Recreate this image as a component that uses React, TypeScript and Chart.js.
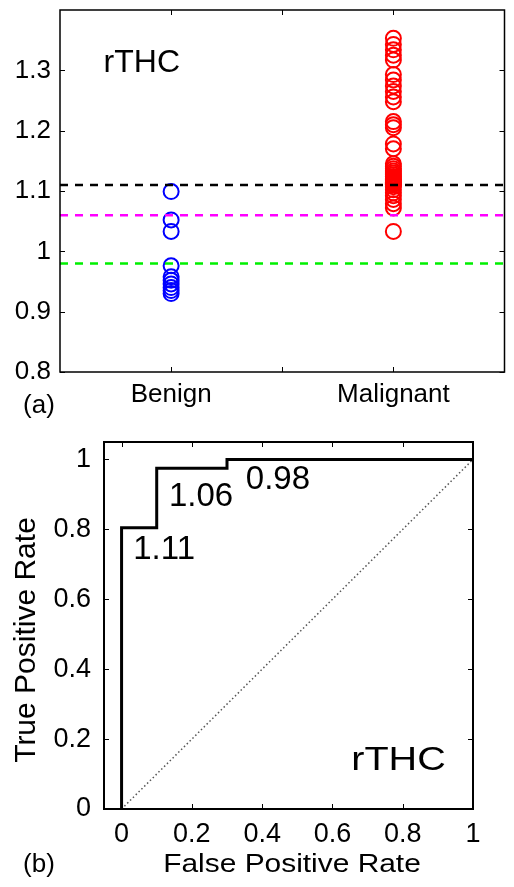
import React, { useEffect, useRef } from 'react';
import { Chart, registerables } from 'chart.js';

Chart.register(...registerables);

const FONT = '"Liberation Sans", Arial, Helvetica, sans-serif';

// ---------- Panel (a) data ----------
const categories = ['Benign', 'Malignant'];
const categoryPositions = [1, 2];
const benignValues = [1.099, 1.052, 1.033, 0.976, 0.958, 0.952, 0.946, 0.94, 0.935, 0.93];
const malignantValues = [
  1.353, 1.343, 1.334, 1.325, 1.317,
  1.293, 1.284, 1.274, 1.265, 1.256, 1.248,
  1.215, 1.21, 1.205,
  1.178, 1.17,
  1.145, 1.141, 1.137, 1.133, 1.13, 1.127, 1.124, 1.121, 1.119, 1.117, 1.115, 1.114, 1.113, 1.112, 1.111, 1.1105,
  1.107, 1.102, 1.097, 1.092, 1.086, 1.079, 1.072,
  1.033,
];
const thresholds = [1.11, 1.06, 0.98];
const thresholdColors = ['#000000', '#ff00ff', '#00f000'];
const topYTicks = [0.8, 0.9, 1.0, 1.1, 1.2, 1.3];
const topXTicks = [1, 1.5, 2];

// ---------- Panel (b) data ----------
const rocFpr = [0, 0, 0.1, 0.1, 0.3, 0.3, 1];
const rocTpr = [0, 0.805, 0.805, 0.975, 0.975, 1, 1];
const thresholdLabels = ['1.11', '1.06', '0.98'];
const bottomTicks = [0, 0.2, 0.4, 0.6, 0.8, 1];

const fmt = (v: number) => String(Number(v.toFixed(2)));

const framePlugin = {
  id: 'frame',
  afterDraw(chart: any, _args: any, opts: any) {
    const { ctx, chartArea: a, scales } = chart;
    const xs = scales.x;
    const ys = scales.y;
    const L = opts.tickLength;
    ctx.save();
    ctx.strokeStyle = '#000';
    ctx.lineWidth = opts.tickWidth;
    ctx.beginPath();
    xs.ticks.forEach((t: any) => {
      const p = Math.round(xs.getPixelForValue(t.value)) + 0.5;
      ctx.moveTo(p, a.bottom);
      ctx.lineTo(p, a.bottom - L);
      ctx.moveTo(p, a.top);
      ctx.lineTo(p, a.top + L);
    });
    ys.ticks.forEach((t: any) => {
      const p = Math.round(ys.getPixelForValue(t.value)) + 0.5;
      ctx.moveTo(a.left, p);
      ctx.lineTo(a.left + L, p);
      ctx.moveTo(a.right, p);
      ctx.lineTo(a.right - L, p);
    });
    ctx.stroke();
    ctx.lineWidth = opts.borderWidth;
    ctx.strokeRect(a.left, a.top, a.right - a.left, a.bottom - a.top);
    ctx.restore();
  },
};

const textPlugin = {
  id: 'texts',
  afterDraw(chart: any, _args: any, opts: any) {
    const { ctx, scales } = chart;
    (opts.items || []).forEach((it: any) => {
      let x = it.x;
      let y = it.y;
      if (it.data) {
        x = scales.x.getPixelForValue(it.x);
        y = scales.y.getPixelForValue(it.y);
      }
      ctx.save();
      ctx.font = it.font;
      ctx.fillStyle = '#000';
      ctx.textAlign = 'center';
      ctx.textBaseline = 'alphabetic';
      ctx.translate(x, y);
      if (it.rotate) ctx.rotate(it.rotate);
      if (it.scaleX) ctx.scale(it.scaleX, 1);
      ctx.fillText(it.text, 0, 0);
      ctx.restore();
    });
  },
};

const fixX = (h: number) => (s: any) => {
  s.height = h;
  s.paddingLeft = 0;
  s.paddingRight = 0;
  s.paddingTop = 0;
  s.paddingBottom = 0;
};
const fixY = (w: number) => (s: any) => {
  s.width = w;
  s.paddingLeft = 0;
  s.paddingRight = 0;
  s.paddingTop = 0;
  s.paddingBottom = 0;
};

function TopChart() {
  const ref = useRef<HTMLCanvasElement | null>(null);
  useEffect(() => {
    if (!ref.current) return;
    const lineSets = thresholds.map((t, i) => ({
      type: 'line' as const,
      data: [
        { x: 0.5, y: t },
        { x: 2.5, y: t },
      ],
      borderColor: thresholdColors[i],
      borderWidth: 2.5,
      borderDash: [8, 7],
      pointRadius: 0,
      fill: false,
    }));
    const chart = new Chart(ref.current, {
      type: 'scatter',
      data: {
        datasets: [
          ...lineSets,
          {
            type: 'scatter' as const,
            data: benignValues.map((v) => ({ x: categoryPositions[0], y: v })),
            borderColor: '#0000ff',
            backgroundColor: 'rgba(0,0,0,0)',
            borderWidth: 2,
            pointRadius: 7.5,
          },
          {
            type: 'scatter' as const,
            data: malignantValues.map((v) => ({ x: categoryPositions[1], y: v })),
            borderColor: '#ff0000',
            backgroundColor: 'rgba(0,0,0,0)',
            borderWidth: 2,
            pointRadius: 7.5,
          },
        ] as any,
      },
      options: {
        animation: false,
        responsive: true,
        maintainAspectRatio: false,
        layout: { padding: { top: 10, right: 1, left: 0, bottom: 0 } },
        plugins: {
          legend: { display: false },
          tooltip: { enabled: false },
          frame: { tickLength: 5, tickWidth: 1, borderWidth: 1.5 },
          texts: {
            items: [
              { text: 'rTHC', data: true, x: 0.868, y: 1.297, font: `32px ${FONT}` },
              { text: '(a)', x: 39, y: 413, font: `26px ${FONT}` },
            ],
          },
        } as any,
        scales: {
          x: {
            type: 'linear',
            min: 0.5,
            max: 2.5,
            grid: { display: false, drawTicks: false },
            border: { display: false },
            afterBuildTicks: (s: any) => {
              s.ticks = topXTicks.map((v) => ({ value: v }));
            },
            afterFit: fixX(53),
            ticks: {
              autoSkip: false,
              maxRotation: 0,
              padding: 7,
              color: '#000',
              font: { family: FONT, size: 26 },
              callback: (v: any) => {
                const i = categoryPositions.indexOf(Number(v));
                return i >= 0 ? categories[i] : '';
              },
            },
          },
          y: {
            type: 'linear',
            min: 0.8,
            max: 1.4,
            grid: { display: false, drawTicks: false },
            border: { display: false },
            afterBuildTicks: (s: any) => {
              s.ticks = topYTicks.map((v) => ({ value: v }));
            },
            afterFit: fixY(60),
            ticks: {
              autoSkip: false,
              padding: 9,
              color: '#000',
              font: { family: FONT, size: 26 },
              callback: (v: any) => fmt(Number(v)),
            },
          },
        },
      },
      plugins: [framePlugin, textPlugin],
    });
    return () => chart.destroy();
  }, []);
  return (
    <div style={{ position: 'absolute', left: 0, top: 0, width: 514, height: 425 }}>
      <canvas ref={ref} />
    </div>
  );
}

function BottomChart() {
  const ref = useRef<HTMLCanvasElement | null>(null);
  useEffect(() => {
    if (!ref.current) return;
    const chart = new Chart(ref.current, {
      type: 'line',
      data: {
        datasets: [
          {
            data: rocFpr.map((x, i) => ({ x, y: rocTpr[i] })),
            borderColor: '#000',
            borderWidth: 3,
            borderJoinStyle: 'miter',
            pointRadius: 0,
            tension: 0,
            fill: false,
          },
          {
            data: [
              { x: 0, y: 0 },
              { x: 1, y: 1 },
            ],
            borderColor: '#555',
            borderWidth: 1.5,
            borderDash: [1.5, 2.5],
            pointRadius: 0,
            fill: false,
          },
        ] as any,
      },
      options: {
        animation: false,
        responsive: true,
        maintainAspectRatio: false,
        layout: { padding: { top: 17, right: 41, left: 0, bottom: 0 } },
        plugins: {
          legend: { display: false },
          tooltip: { enabled: false },
          frame: { tickLength: 5, tickWidth: 1, borderWidth: 2 },
          texts: {
            items: [
              { text: thresholdLabels[0], data: true, x: 0.121, y: 0.715, font: `33px ${FONT}` },
              { text: thresholdLabels[1], data: true, x: 0.226, y: 0.867, font: `33px ${FONT}` },
              { text: thresholdLabels[2], data: true, x: 0.445, y: 0.915, font: `33px ${FONT}` },
              { text: 'rTHC', data: true, x: 0.788, y: 0.112, font: `33px ${FONT}`, scaleX: 1.2 },
              { text: '(b)', x: 39, y: 447, font: `26px ${FONT}` },
              { text: 'False Positive Rate', x: 292, y: 447, font: `26px ${FONT}`, scaleX: 1.15 },
              { text: 'True Positive Rate', x: 35, y: 215, font: `30px ${FONT}`, rotate: -Math.PI / 2 },
            ],
          },
        } as any,
        scales: {
          x: {
            type: 'linear',
            min: -0.05,
            max: 1,
            grid: { display: false, drawTicks: false },
            border: { display: false },
            afterBuildTicks: (s: any) => {
              s.ticks = bottomTicks.map((v) => ({ value: v }));
            },
            afterFit: fixX(78),
            ticks: {
              autoSkip: false,
              maxRotation: 0,
              padding: 9,
              color: '#000',
              font: { family: FONT, size: 27 },
              callback: (v: any) => fmt(Number(v)),
            },
          },
          y: {
            type: 'linear',
            min: 0,
            max: 1.05,
            grid: { display: false, drawTicks: false },
            border: { display: false },
            afterBuildTicks: (s: any) => {
              s.ticks = bottomTicks.map((v) => ({ value: v }));
            },
            afterFit: fixY(104),
            ticks: {
              autoSkip: false,
              padding: 13,
              color: '#000',
              font: { family: FONT, size: 27 },
              callback: (v: any) => fmt(Number(v)),
            },
          },
        },
      },
      plugins: [framePlugin, textPlugin],
    });
    return () => chart.destroy();
  }, []);
  return (
    <div style={{ position: 'absolute', left: 0, top: 425, width: 514, height: 462 }}>
      <canvas ref={ref} />
    </div>
  );
}

export default function App() {
  return (
    <div
      style={{
        position: 'absolute',
        left: 0,
        top: 0,
        width: 514,
        height: 887,
        background: '#fff',
        overflow: 'hidden',
      }}
    >
      <TopChart />
      <BottomChart />
    </div>
  );
}
